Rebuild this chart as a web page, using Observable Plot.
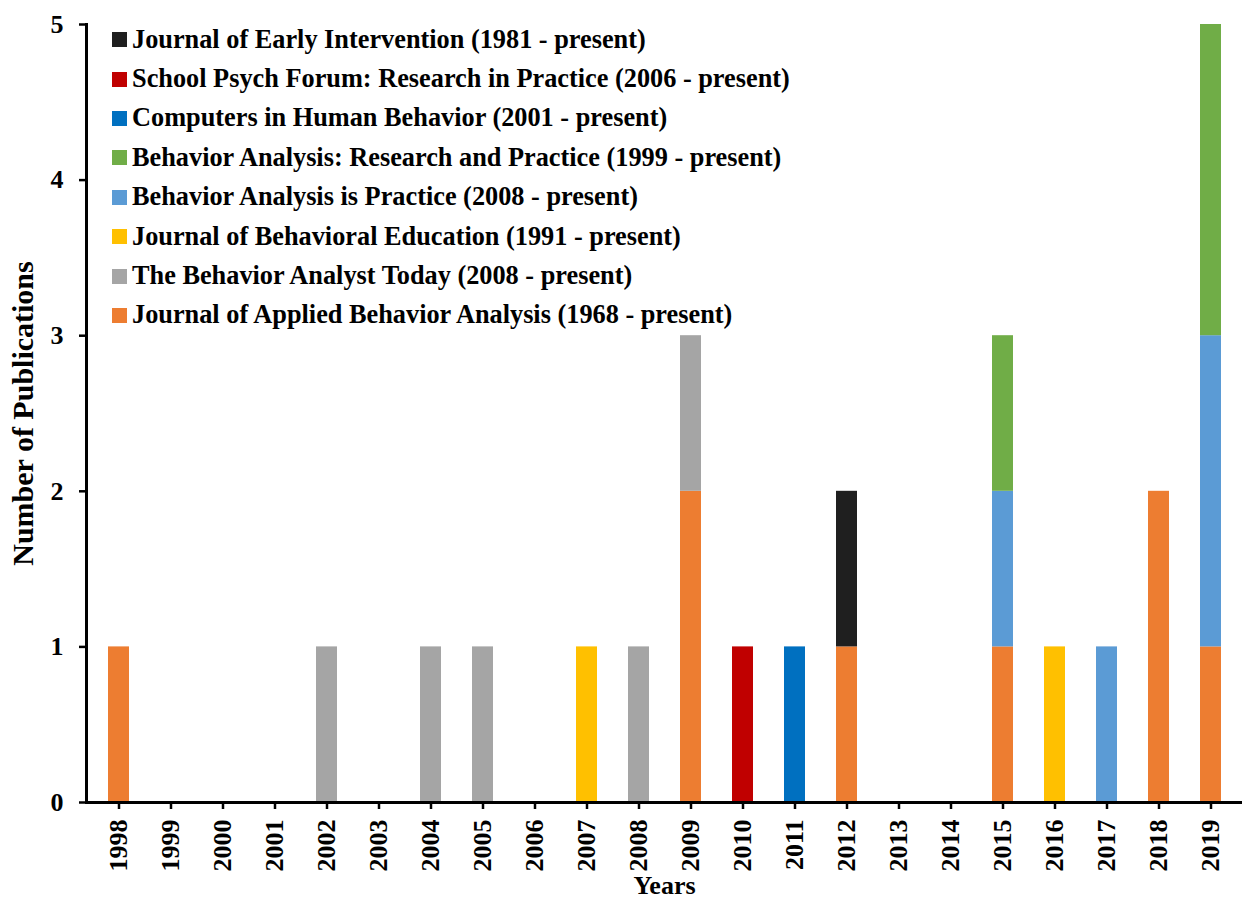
<!DOCTYPE html>
<html>
<head>
<meta charset="utf-8">
<script src="https://cdn.jsdelivr.net/npm/d3@7"></script>
<script src="https://cdn.jsdelivr.net/npm/@observablehq/plot@0.6"></script>
<style>
  html, body { margin: 0; padding: 0; background: #fff; }
  #wrap { position: relative; width: 1243px; height: 905px; font-family: "Liberation Serif", "Times New Roman", serif; font-weight: bold; }
  #legend { position: absolute; left: 112px; top: 20px; }
  .row { display: flex; align-items: center; height: 39.4px; font-size: 26.3px; color: #000; white-space: nowrap; }
  .sw { width: 15px; height: 15px; margin-right: 5px; flex: none; }
</style>
</head>
<body>
<div id="wrap"></div>
<script>
const years = ["1998","1999","2000","2001","2002","2003","2004","2005","2006","2007","2008","2009","2010","2011","2012","2013","2014","2015","2016","2017","2018","2019"];

// Journals in stacking order (bottom to top)
const journals = [
  "Journal of Applied Behavior Analysis (1968 - present)",
  "The Behavior Analyst Today (2008 - present)",
  "Journal of Behavioral Education (1991 - present)",
  "Behavior Analysis is Practice (2008 - present)",
  "Behavior Analysis: Research and Practice (1999 - present)",
  "Computers in Human Behavior (2001 - present)",
  "School Psych Forum: Research in Practice (2006 - present)",
  "Journal of Early Intervention (1981 - present)"
];
const colors = ["#ED7D31", "#A5A5A5", "#FFC000", "#5B9BD5", "#70AD47", "#0070C0", "#C00000", "#1f1f1f"];

//            98 99 00 01 02 03 04 05 06 07 08 09 10 11 12 13 14 15 16 17 18 19
const jaba = [1, 0, 0, 0, 0, 0, 0, 0, 0, 0, 0, 2, 0, 0, 1, 0, 0, 1, 0, 0, 2, 1];
const bat  = [0, 0, 0, 0, 1, 0, 1, 1, 0, 0, 1, 1, 0, 0, 0, 0, 0, 0, 0, 0, 0, 0];
const jbe  = [0, 0, 0, 0, 0, 0, 0, 0, 0, 1, 0, 0, 0, 0, 0, 0, 0, 0, 1, 0, 0, 0];
const bap  = [0, 0, 0, 0, 0, 0, 0, 0, 0, 0, 0, 0, 0, 0, 0, 0, 0, 1, 0, 1, 0, 2];
const barp = [0, 0, 0, 0, 0, 0, 0, 0, 0, 0, 0, 0, 0, 0, 0, 0, 0, 1, 0, 0, 0, 2];
const chb  = [0, 0, 0, 0, 0, 0, 0, 0, 0, 0, 0, 0, 0, 1, 0, 0, 0, 0, 0, 0, 0, 0];
const spf  = [0, 0, 0, 0, 0, 0, 0, 0, 0, 0, 0, 0, 1, 0, 0, 0, 0, 0, 0, 0, 0, 0];
const jei  = [0, 0, 0, 0, 0, 0, 0, 0, 0, 0, 0, 0, 0, 0, 1, 0, 0, 0, 0, 0, 0, 0];
const yTicks = [0, 1, 2, 3, 4, 5];

const series = [jaba, bat, jbe, bap, barp, chb, spf, jei];
const rows = [];
years.forEach((yr, i) => {
  series.forEach((s, j) => {
    if (s[i] > 0) rows.push({year: yr, journal: journals[j], count: s[i]});
  });
});

const font = '"Liberation Serif", "Times New Roman", serif';

const chart = Plot.plot({
  width: 1243,
  height: 905,
  marginLeft: 86,
  marginRight: 1,
  marginTop: 24,
  marginBottom: 103,
  style: {fontFamily: font, fontWeight: "bold", fontSize: "26px", color: "#000", background: "#fff"},
  x: {type: "band", domain: years, paddingInner: 0.6, paddingOuter: 0.3, label: null},
  y: {domain: [0, 5], label: null},
  color: {domain: journals, range: colors},
  marks: [
    Plot.barY(rows, Plot.stackY({x: "year", y: "count", fill: "journal", order: journals})),
    Plot.axisY({ticks: yTicks, tickSize: 7, tickPadding: 16, tickFormat: d => String(d), strokeWidth: 2.5, fontSize: 26, label: null}),
    Plot.axisX({tickSize: 7, tickFormat: () => "", strokeWidth: 2.5, label: null}),
    Plot.text(years, {x: d => d, frameAnchor: "bottom", rotate: -90, textAnchor: "end", lineAnchor: "middle", dy: 17, fontSize: 26}),
    Plot.ruleY([0], {stroke: "#000", strokeWidth: 3}),
    Plot.frame({anchor: "left", stroke: "#000", strokeWidth: 3}),
    Plot.text(["Number of Publications"], {frameAnchor: "left", rotate: -90, dx: -63, fontSize: 30, textAnchor: "middle"}),
    Plot.text(["Years"], {frameAnchor: "bottom", dy: 91, fontSize: 26, textAnchor: "middle"})
  ]
});

const wrap = document.getElementById("wrap");
chart.style.position = "absolute";
chart.style.left = "0";
chart.style.top = "0";
wrap.appendChild(chart);

const legend = document.createElement("div");
legend.id = "legend";
for (let j = journals.length - 1; j >= 0; j--) {
  const row = document.createElement("div");
  row.className = "row";
  const sw = document.createElement("span");
  sw.className = "sw";
  sw.style.background = colors[j];
  const t = document.createElement("span");
  t.textContent = journals[j];
  row.appendChild(sw);
  row.appendChild(t);
  legend.appendChild(row);
}
wrap.appendChild(legend);
</script>
</body>
</html>
